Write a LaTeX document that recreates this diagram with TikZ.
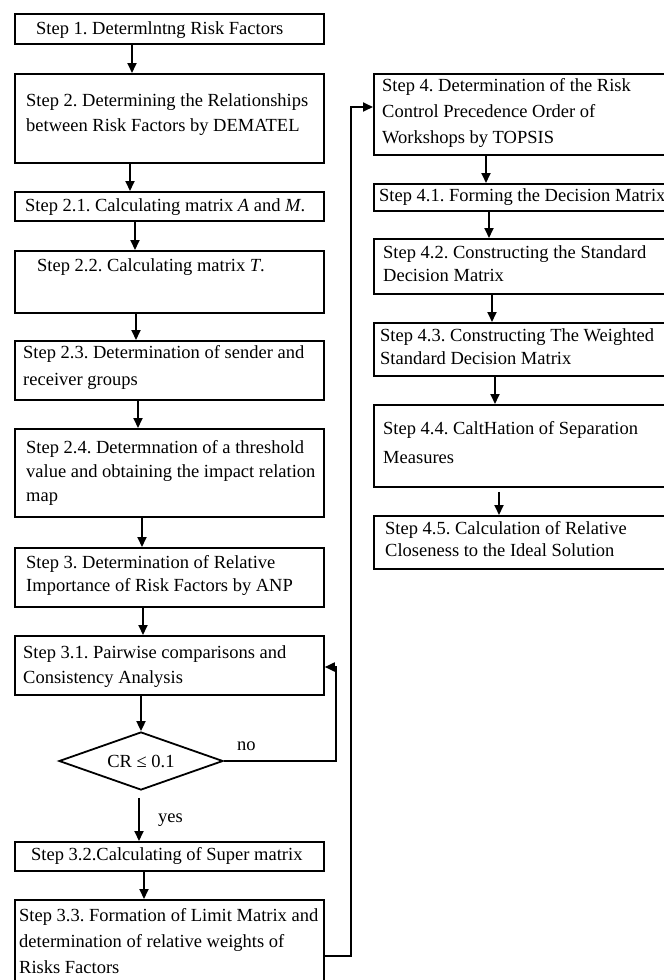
\documentclass[tikz,border=0pt]{standalone}
\usepackage{fontspec}
\setmainfont{Liberation Serif}
\usetikzlibrary{shapes.geometric,arrows.meta}
\frenchspacing
\tikzset{
  box/.style={draw, line width=1.8pt, rectangle, inner sep=0pt, anchor=north west, minimum width=309pt},
  rbox/.style={box, minimum width=300pt},
  txt/.style={anchor=north west, inner sep=0pt, align=left},
  arr/.style={line width=1.8pt, -{Triangle[length=10pt,width=9pt]}},
  lbl/.style={inner sep=0pt, font=\fontsize{18.5}{20}\selectfont},
}
\newcommand\fs[1]{\fontsize{18.5}{#1}\selectfont}
\begin{document}
\begin{tikzpicture}[x=1pt,y=-1pt]
\useasboundingbox (0,0) rectangle (664,980);
\clip (0,0) rectangle (664,980);
% left column boxes
\node[box, minimum height=30pt] (b1) at (14,13) {};
\node[box, minimum height=89pt] (b2) at (14,73) {};
\node[box, minimum height=29pt] (b21) at (14,191) {};
\node[box, minimum height=62pt] (b22) at (14,250) {};
\node[box, minimum height=59pt] (b23) at (14,340) {};
\node[box, minimum height=88pt] (b24) at (14,428) {};
\node[box, minimum height=59pt] (b3) at (14,547) {};
\node[box, minimum height=59pt] (b31) at (14,635) {};
\node[draw, diamond, line width=1.8pt, inner sep=0pt, minimum width=164pt, minimum height=58pt, aspect=2.8] (d) at (141,761) {};
\node[box, minimum height=110pt] (b33) at (14,899) {};
\node[box, minimum height=29pt] (b32) at (14,841) {};
% right column boxes
\node[rbox, minimum height=81pt] (b4) at (373,73) {};
\node[rbox, minimum height=27pt] (b41) at (373,183) {};
\node[rbox, minimum height=55pt] (b42) at (373,238) {};
\node[rbox, minimum height=53pt] (b43) at (373,322) {};
\node[rbox, minimum height=82pt] (b44) at (373,404) {};
\node[rbox, minimum height=53pt] (b45) at (373,515) {};
% texts
\node[txt, font=\fs{25}] (t1) at (36,{34-0.7*25}) {\strut Step 1. Determlntng Risk Factors};
\node[txt, font=\fs{25}] (t2) at (26,{106-0.7*25}) {\strut Step 2. Determining the Relationships\\\strut between Risk Factors by DEMATEL};
\node[txt, font=\fs{25}] (t21) at (25,{211-0.7*25}) {\strut Step 2.1. Calculating matrix \textit{A} and \textit{M}.};
\node[txt, font=\fs{25}] (t22) at (37,{271-0.7*25}) {\strut Step 2.2. Calculating matrix \textit{T}.};
\node[txt, font=\fs{27}] (t23) at (23,{358-0.7*27}) {\strut Step 2.3. Determination of sender and\\\strut receiver groups};
\node[txt, font=\fs{24}] (t24) at (26,{453-0.7*24}) {\strut Step 2.4. Determnation of a threshold\\\strut value and obtaining the impact relation\\\strut map};
\node[txt, font=\fs{23}] (t3) at (26,{568-0.7*23}) {\strut Step 3. Determination of Relative\\\strut Importance of Risk Factors by ANP};
\node[txt, font=\fs{25}] (t31) at (23,{658-0.7*25}) {\strut Step 3.1. Pairwise comparisons and\\\strut Consistency Analysis};
\node[lbl] (cr) at (d.center) {CR ≤ 0.1};
\node[lbl, anchor=west] (no) at (237,746) {no};
\node[lbl, anchor=west] (yes) at (158,820) {yes};
\node[txt, font=\fs{25}] (t32) at (31,{860-0.7*25}) {\strut Step 3.2.Calculating of Super matrix};
\node[txt, font=\fs{26}] (t33) at (19,{921-0.7*26}) {\strut Step 3.3. Formation of Limit Matrix and\\\strut determination of relative weights of\\\strut Risks Factors};
\node[txt, font=\fs{26}] (t4) at (382,{91-0.7*26}) {\strut Step 4. Determination of the Risk\\\strut Control Precedence Order of\\\strut Workshops by TOPSIS};
\node[txt, font=\fs{25}] (t41) at (379,{201-0.7*25}) {\strut Step 4.1. Forming the Decision Matrix};
\node[txt, font=\fs{23}] (t42) at (383,{258-0.7*23}) {\strut Step 4.2. Constructing the Standard\\\strut Decision Matrix};
\node[txt, font=\fs{23}] (t43) at (380,{341-0.7*23}) {\strut Step 4.3. Constructing The Weighted\\\strut Standard Decision Matrix};
\node[txt, font=\fs{29}] (t44) at (383,{434-0.7*29}) {\strut Step 4.4. CaltHation of Separation\\\strut Measures};
\node[txt, font=\fs{22}] (t45) at (385,{534-0.7*22}) {\strut Step 4.5. Calculation of Relative\\\strut Closeness to the Ideal Solution};
% arrows left
\draw[arr] (b1.south -| 132,0) -- (b2.north -| 132,0);
\draw[arr] (b2.south -| 130,0) -- (b21.north -| 130,0);
\draw[arr] (b21.south -| 135,0) -- (b22.north -| 135,0);
\draw[arr] (b22.south -| 136,0) -- (b23.north -| 136,0);
\draw[arr] (b23.south -| 138,0) -- (b24.north -| 138,0);
\draw[arr] (b24.south -| 142,0) -- (b3.north -| 142,0);
\draw[arr] (b3.south -| 143,0) -- (b31.north -| 143,0);
\draw[arr] (b31.south -| 141,0) -- (d.north);
\draw[arr, shorten <=7pt] (d.south -| 139,0) -- (b32.north -| 139,0);
\draw[arr] (b32.south -| 144,0) -- (b33.north -| 144,0);
\draw[arr] (d.east) -| (336,667) -- (b31.east |- 0,667);
\draw[arr] (b33.east |- 0,956) -| (351,107) -- (b4.west |- 0,107);
% arrows right
\draw[arr] (b4.south -| 486,0) -- (b41.north -| 486,0);
\draw[arr] (b41.south -| 489,0) -- (b42.north -| 489,0);
\draw[arr] (b42.south -| 492,0) -- (b43.north -| 492,0);
\draw[arr] (b43.south -| 495,0) -- (b44.north -| 495,0);
\draw[arr, shorten <=4pt] (b44.south -| 499,0) -- (b45.north -| 499,0);
\end{tikzpicture}
\end{document}
